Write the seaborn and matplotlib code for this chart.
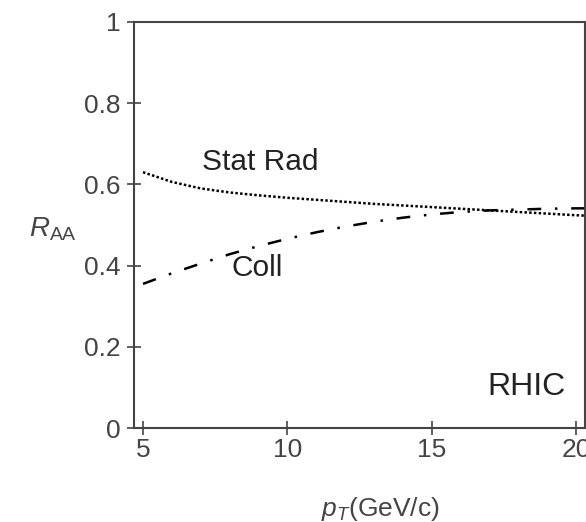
import matplotlib
matplotlib.use("Agg")
import matplotlib.pyplot as plt
import seaborn as sns
import pandas as pd

pt = [5, 6, 7, 8, 9, 10, 11, 12, 13, 14, 15, 16, 17, 18, 19, 20, 20.3]
stat_rad = [0.630, 0.606, 0.590, 0.580, 0.573, 0.567, 0.562, 0.557, 0.552, 0.548, 0.544, 0.540, 0.536, 0.532, 0.528, 0.524, 0.523]
coll = [0.355, 0.381, 0.405, 0.428, 0.448, 0.466, 0.482, 0.496, 0.508, 0.518, 0.526, 0.532, 0.536, 0.538, 0.540, 0.541, 0.541]

x_ticks = [5, 10, 15, 20]
y_ticks = [0, 0.2, 0.4, 0.6, 0.8, 1]
y_tick_labels = ["0", "0.2", "0.4", "0.6", "0.8", "1"]

sns.set_style("white")
plt.rcParams['font.family'] = ['Liberation Sans', 'DejaVu Sans']
plt.rcParams['mathtext.fontset'] = 'custom'
plt.rcParams['mathtext.it'] = 'Liberation Sans:italic'
plt.rcParams['mathtext.rm'] = 'Liberation Sans'

df = pd.DataFrame({"pt": pt + pt,
                   "raa": stat_rad + coll,
                   "model": ["Stat Rad"] * len(pt) + ["Coll"] * len(pt)})

fig = plt.figure(figsize=(5.86, 5.22), dpi=100)
ax = fig.add_axes([0.2287, 0.180, 0.770, 0.778])

sns.lineplot(data=df, x="pt", y="raa", hue="model", palette={"Stat Rad": "black", "Coll": "black"},
             legend=False, ax=ax, linewidth=1.8)
lines = ax.get_lines()
lines[0].set_dashes([1.0, 0.9])
lines[1].set_dashes([5.5, 5.5, 1, 5.5])

ax.set_xlim(4.69, 20.31)
ax.set_ylim(0, 1)
ax.set_xticks(x_ticks)
ax.set_yticks(y_ticks)
ax.set_yticklabels(y_tick_labels)
ax.tick_params(bottom=True, left=True, top=False, right=False,
               direction='inout', length=10, width=1.2, color='#444444',
               labelsize=19, labelcolor='#444444')
ax.tick_params(axis='y', pad=5)
ax.tick_params(axis='x', pad=2)
for s in ax.spines.values():
    s.set_color('#444444')
    s.set_linewidth(1.5)

ax.set_xlabel(r"$p_T$(GeV/c)", fontsize=19, color='#444444')
ax.xaxis.set_label_coords(0.545, -0.165)
ax.set_ylabel(r"$R_{\mathrm{AA}}$", fontsize=20, color='#444444', rotation=0, va='center')
ax.yaxis.set_label_coords(-0.18, 0.49)

ax.text(7.05, 0.655, "Stat Rad", fontsize=21.5, color='#222222', ha='left', va='center')
ax.text(8.08, 0.394, "Coll", fontsize=21.5, color='#222222', ha='left', va='center')
ax.text(18.27, 0.102, "RHIC", fontsize=23, color='#222222', ha='center', va='center')

fig.savefig("out.png", dpi=100)
